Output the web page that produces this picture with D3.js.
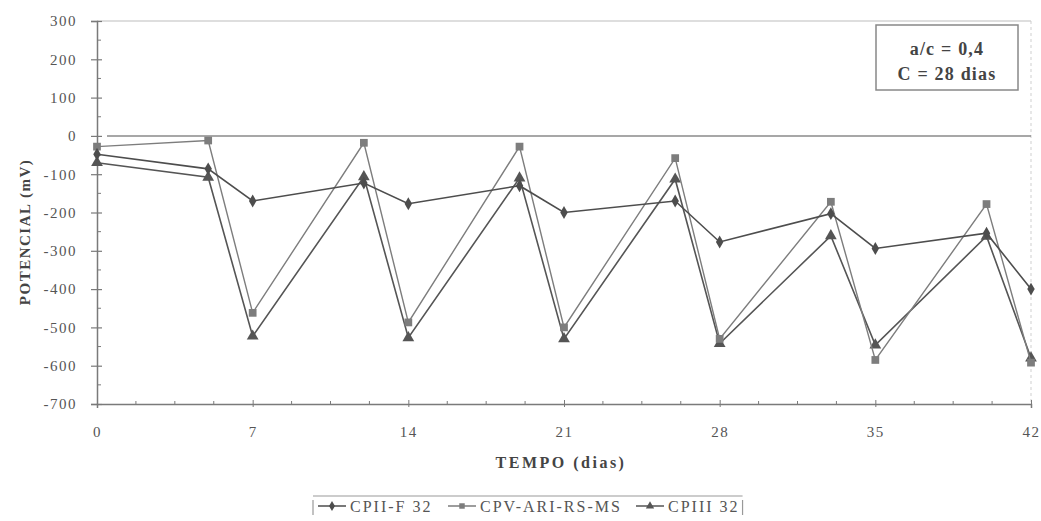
<!DOCTYPE html>
<html><head><meta charset="utf-8">
<script src="https://cdn.jsdelivr.net/npm/d3@7"></script>
<style>body{margin:0;background:#fff}svg{display:block}</style>
</head><body>
<svg id="c" width="1041" height="521"></svg>
<script>
const days = [0,5,7,12,14,19,21,26,28,33,35,40,42];
const cpiiF = [-48,-86,-170,-123,-177,-130,-200,-170,-277,-203,-294,-254,-400];
const cpvAri = [-28,-12,-462,-18,-487,-28,-500,-58,-530,-172,-585,-178,-592];
const cpiii = [-70,-108,-523,-107,-527,-110,-530,-113,-542,-261,-546,-262,-580];
const seriesNames = ["CPII-F 32","CPV-ARI-RS-MS","CPIII 32"];
const xTicks = [0,7,14,21,28,35,42];
const yTicks = [300,200,100,0,-100,-200,-300,-400,-500,-600,-700];

const svg = d3.select("#c");
const font = "'Liberation Serif','Times New Roman',serif";
const x = d3.scaleLinear().domain([0,42]).range([97,1031]);
const y = d3.scaleLinear().domain([-700,300]).range([404,21]);
const axisCol = "#7a7a7a";

// frame (faint top/right)
svg.append("line").attr("x1",x(0)).attr("x2",x(42)).attr("y1",y(300)).attr("y2",y(300))
  .attr("stroke","#bdbdbd").attr("stroke-width",1.2);
svg.append("line").attr("x1",x(42)).attr("x2",x(42)).attr("y1",y(300)).attr("y2",y(-700))
  .attr("stroke","#cfcfcf").attr("stroke-width",1).attr("stroke-dasharray","3,3");

// zero line
svg.append("line").attr("x1",x(0)+10).attr("x2",x(42)).attr("y1",y(0)).attr("y2",y(0))
  .attr("stroke","#8a8a8a").attr("stroke-width",1.5);

// y axis
const yAxis = d3.axisLeft(y).tickValues(yTicks).tickSize(6).tickPadding(14)
  .tickFormat(d=>d);
const gy = svg.append("g").attr("transform",`translate(${x(0)},0)`).call(yAxis);
gy.select(".domain").attr("stroke",axisCol).attr("stroke-width",1.5);
gy.selectAll(".tick line").attr("stroke",axisCol).attr("stroke-width",1.2).attr("x2",-6).attr("x1",5);
gy.selectAll(".tick text").attr("fill","#555").style("font-family",font).style("font-size","15px").style("letter-spacing","1.5px");
const yMinor = d3.range(-650,300,100);
svg.append("g").selectAll("line").data(yMinor).join("line")
  .attr("x1",x(0)).attr("x2",x(0)+4).attr("y1",d=>y(d)).attr("y2",d=>y(d))
  .attr("stroke",axisCol).attr("stroke-width",1);

// x axis
const xAxis = d3.axisBottom(x).tickValues(xTicks).tickSize(4).tickPadding(18).tickFormat(d=>d);
const gx = svg.append("g").attr("transform",`translate(0,${y(-700)})`).call(xAxis);
gx.select(".domain").attr("stroke",axisCol).attr("stroke-width",1.5);
gx.selectAll(".tick line").attr("stroke",axisCol).attr("stroke-width",1).attr("y1",-4).attr("y2",3);
gx.selectAll(".tick text").attr("fill","#555").style("font-family",font).style("font-size","15px").style("letter-spacing","1.5px");
const xMinor = d3.range(1.75,42,1.75).filter(d=>Math.abs(d/7-Math.round(d/7))>1e-6);
svg.append("g").selectAll("line").data(xMinor).join("line")
  .attr("x1",d=>x(d)).attr("x2",d=>x(d)).attr("y1",y(-700)).attr("y2",y(-700)-3)
  .attr("stroke",axisCol).attr("stroke-width",1);

// axis titles
svg.append("text").attr("x",561).attr("y",468).attr("text-anchor","middle")
  .style("font-family",font).style("font-size","16px").style("font-weight","bold")
  .style("letter-spacing","2.5px").attr("fill","#444").text("TEMPO (dias)");
svg.append("text").attr("transform","translate(30,232) rotate(-90)").attr("text-anchor","middle")
  .style("font-family",font).style("font-size","15px").style("font-weight","bold")
  .style("letter-spacing","1.5px").attr("fill","#444").text("POTENCIAL (mV)");

// series
const seriesData = [cpiiF,cpvAri,cpiii];
const colors = ["#4d4d4d","#7d7d7d","#555555"];
const widths = [1.6,1.4,1.6];
const shapes = [d3.symbolDiamond,d3.symbolSquare,d3.symbolTriangle];
const sizes = [48,60,60];
const line = d3.line().x(d=>x(d[0])).y(d=>y(d[1]));
[2,1,0].forEach(i=>{
  const pts = days.map((d,j)=>[d,seriesData[i][j]]);
  svg.append("path").datum(pts).attr("d",line).attr("fill","none")
    .attr("stroke",colors[i]).attr("stroke-width",widths[i]);
  svg.append("g").selectAll("path").data(pts).join("path")
    .attr("d",d3.symbol().type(shapes[i]).size(sizes[i]))
    .attr("transform",d=>`translate(${x(d[0])},${y(d[1])})`)
    .attr("fill",colors[i]);
});

// annotation box
svg.append("rect").attr("x",876).attr("y",25).attr("width",142).attr("height",65)
  .attr("fill","#fff").attr("stroke","#888").attr("stroke-width",1.5);
svg.append("text").attr("x",947).attr("y",55).attr("text-anchor","middle")
  .style("font-family",font).style("font-size","18px").style("font-weight","bold")
  .style("letter-spacing","1.2px").attr("fill","#444").text("a/c = 0,4");
svg.append("text").attr("x",947).attr("y",80).attr("text-anchor","middle")
  .style("font-family",font).style("font-size","18px").style("font-weight","bold")
  .style("letter-spacing","1.2px").attr("fill","#444").text("C = 28 dias");

// legend
const lg = svg.append("g");
const legX = [318,448,636];
let endX = 0;
seriesNames.forEach((n,i)=>{
  const g = lg.append("g").attr("transform",`translate(${legX[i]},506)`);
  g.append("line").attr("x1",0).attr("x2",28).attr("y1",0).attr("y2",0).attr("stroke",colors[i]).attr("stroke-width",1.5);
  g.append("path").attr("d",d3.symbol().type(shapes[i]).size(30)).attr("transform","translate(14,0)").attr("fill",colors[i]);
  const t = g.append("text").attr("x",32).attr("y",6).style("font-family",font).style("font-size","16px")
    .style("letter-spacing","2px").attr("fill","#555").text(n);
  endX = legX[i] + 32 + t.node().getComputedTextLength();
});
const rx = endX + 3;
lg.append("line").attr("x1",313).attr("x2",rx).attr("y1",496).attr("y2",496).attr("stroke","#999").attr("stroke-width",1.2);
lg.append("line").attr("x1",313).attr("x2",313).attr("y1",500).attr("y2",515).attr("stroke","#999").attr("stroke-width",1.2);
lg.append("line").attr("x1",rx).attr("x2",rx).attr("y1",500).attr("y2",515).attr("stroke","#999").attr("stroke-width",1.2);
</script>
</body></html>
